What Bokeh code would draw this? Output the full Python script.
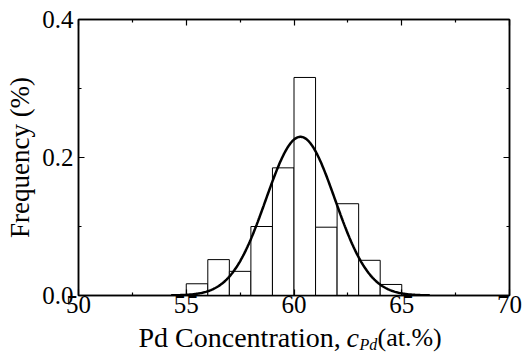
import numpy as np
from bokeh.plotting import figure
from bokeh.layouts import column
from bokeh.models import FixedTicker, LinearAxis, Label, PrintfTickFormatter, Range1d
from bokeh.embed import file_html
from bokeh.resources import INLINE

# Histogram data (bin edges in at.% Pd, frequency)
bin_left = [55, 56, 57, 58, 59, 60, 61, 62, 63, 64]
bin_right = [56, 57, 58, 59, 60, 61, 62, 63, 64, 65]
frequency = [0.017, 0.052, 0.035, 0.100, 0.185, 0.316, 0.099, 0.133, 0.051, 0.016]

# Gaussian fit parameters
fit_center = 60.3
fit_peak = 0.230
fit_sigma = 1.6

x_ticks = [50, 55, 60, 65, 70]
x_minor = [52.5, 57.5, 62.5, 67.5]
y_ticks = [0.0, 0.2, 0.4]
y_minor = [0.1, 0.3]

FONT = "Liberation Serif"

p = figure(width=532, height=325, output_backend="svg", toolbar_location=None,
           x_range=Range1d(50, 70), y_range=Range1d(0, 0.4),
           min_border_left=78, min_border_right=23, min_border_top=19, min_border_bottom=30)
p.grid.visible = False
p.background_fill_color = "white"
p.border_fill_color = "white"
p.outline_line_color = "black"
p.outline_line_width = 1.5

p.quad(left=bin_left, right=bin_right, bottom=0, top=frequency,
       fill_color="white", line_color="black", line_width=1)

xs = np.linspace(54.3, 66.3, 300)
ys = fit_peak * np.exp(-(xs - fit_center) ** 2 / (2 * fit_sigma ** 2))
p.line(xs, ys, line_color="black", line_width=2.5)

def style_axis(ax, ticks, minor, show_labels):
    ax.ticker = FixedTicker(ticks=ticks, minor_ticks=minor)
    ax.axis_line_color = "black"
    ax.axis_line_width = 1.5
    ax.major_tick_in = 6
    ax.major_tick_out = 0
    ax.minor_tick_in = 3
    ax.minor_tick_out = 0
    ax.major_tick_line_color = "black"
    ax.minor_tick_line_color = "black"
    ax.major_tick_line_width = 1.2
    ax.minor_tick_line_width = 1.2
    ax.major_label_text_font = FONT
    ax.major_label_text_font_size = "25px"
    ax.major_label_text_color = "black"
    if not show_labels:
        ax.major_label_text_font_size = "0px"
        ax.major_label_text_alpha = 0

xa = p.xaxis[0]
style_axis(xa, x_ticks, x_minor, True)
xa.major_label_standoff = 0

ya = p.yaxis[0]
style_axis(ya, y_ticks, y_minor, True)
ya.formatter = PrintfTickFormatter(format="%.1f")
ya.major_label_standoff = 5
ya.axis_label = "Frequency (%)"
ya.axis_label_text_font = FONT
ya.axis_label_text_font_style = "normal"
ya.axis_label_text_font_size = "27px"
ya.axis_label_text_color = "black"
ya.axis_label_standoff = 4

top_ax = LinearAxis()
style_axis(top_ax, x_ticks, x_minor, False)
p.add_layout(top_ax, "above")
right_ax = LinearAxis()
style_axis(right_ax, y_ticks, y_minor, False)
p.add_layout(right_ax, "right")

# x-axis title strip (italic c with subscript Pd), drawn in a separate strip below
q = figure(width=532, height=28, output_backend="svg", toolbar_location=None,
           x_range=Range1d(0, 1), y_range=Range1d(0, 1),
           min_border=0, min_border_left=0, min_border_right=0,
           min_border_top=0, min_border_bottom=0)
q.axis.visible = False
q.grid.visible = False
q.outline_line_color = None
q.background_fill_color = "white"
q.border_fill_color = "white"

def lab(text, x, y, size, style="normal"):
    q.add_layout(Label(x=x, y=y, x_units="screen", y_units="screen", text=text,
                       text_font=FONT, text_font_size=size, text_font_style=style,
                       text_color="black", text_align="left", text_baseline="alphabetic"))

lab("Pd Concentration,", 60, 16, "28px")
lab("c", 268, 16, "28px", "italic")
lab("Pd", 281, 9, "16px", "italic")
lab("(at.%)", 299, 16, "26px")

layout = column(p, q, spacing=0)
open("out.html", "w").write(file_html(layout, INLINE))
